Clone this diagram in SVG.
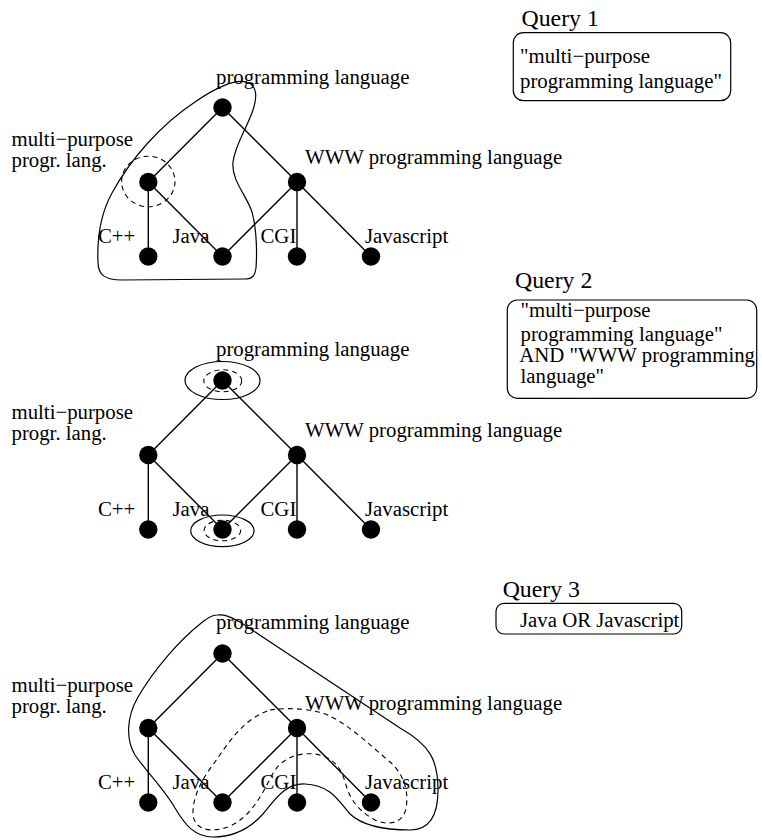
<svg xmlns="http://www.w3.org/2000/svg" width="762" height="840" viewBox="0 0 762 840">
<style>
text{font-family:"Liberation Serif","Times New Roman",serif;font-size:20.8px;fill:#000}
.title{font-size:23.8px}
.edge{stroke:#000;stroke-width:1.4;fill:none}
.node{fill:#000}
.blob{stroke:#000;stroke-width:1.2;fill:none}
.dash{stroke:#000;stroke-width:1.1;fill:none;stroke-dasharray:5,4}
.box{stroke:#000;stroke-width:1.2;fill:none}
</style>
<defs>
<g id="edges">
<line class="edge" x1="222.5" y1="107.5" x2="148.3" y2="182"/>
<line class="edge" x1="222.5" y1="107.5" x2="297" y2="182"/>
<line class="edge" x1="148.3" y1="182" x2="148.3" y2="256.5"/>
<line class="edge" x1="148.3" y1="182" x2="222.5" y2="256.5"/>
<line class="edge" x1="297" y1="182" x2="222.5" y2="256.5"/>
<line class="edge" x1="297" y1="182" x2="297" y2="256.5"/>
<line class="edge" x1="297" y1="182" x2="371" y2="256.5"/>
</g>
</defs>

<!-- Diagram 1 -->
<g id="diagram1">
<g id="d1-connectors"><use href="#edges"/></g>
<g id="d1-n-prog"><circle class="node" cx="222.5" cy="107.5" r="9.2"/><text x="216" y="84">programming language</text></g>
<g id="d1-n-multi"><circle class="node" cx="148.3" cy="182" r="9.2"/><text x="11.5" y="145.5">multi−purpose</text><text x="11.5" y="166.5">progr. lang.</text></g>
<g id="d1-n-www"><circle class="node" cx="297" cy="182" r="9.2"/><text x="305" y="163.5">WWW programming language</text></g>
<g id="d1-n-cpp"><circle class="node" cx="148.3" cy="256.5" r="9.2"/><text x="98" y="243">C++</text></g>
<g id="d1-n-java"><circle class="node" cx="222.5" cy="256.5" r="9.2"/><text x="172.5" y="243">Java</text></g>
<g id="d1-n-cgi"><circle class="node" cx="297" cy="256.5" r="9.2"/><text x="260.5" y="243">CGI</text></g>
<g id="d1-n-js"><circle class="node" cx="371" cy="256.5" r="9.2"/><text x="365" y="243">Javascript</text></g>
<g id="d1-result">
<path class="blob" d="M 246,82 C 258,85 257,98 253,110 C 247,128 235,145 233,162 C 231,180 247,196 252,212 C 257,230 257,255 256,268 C 255,276 252,279 245,279 L 122,280 C 105,280 98,275 98,262 C 97,240 100,215 112,193 C 130,160 160,125 195,102 C 215,88 235,79 246,82 Z"/>
<ellipse class="dash" cx="148.3" cy="181.5" rx="26.7" ry="25.3"/>
</g>
<g id="query1">
<text class="title" x="521.5" y="26">Query 1</text>
<rect class="box" x="513.3" y="32.7" width="217.4" height="68" rx="10"/>
<text x="520" y="63">"multi−purpose</text>
<text x="520" y="87.5">programming language"</text>
</g>
</g>

<!-- Diagram 2 -->
<g id="diagram2">
<g id="d2-connectors" transform="translate(0,273)"><use href="#edges"/></g>
<g transform="translate(0,273)">
<g id="d2-n-prog"><circle class="node" cx="222.5" cy="107.5" r="9.2"/><text x="216" y="83">programming language</text></g>
<g id="d2-n-multi"><circle class="node" cx="148.3" cy="182" r="9.2"/><text x="11.5" y="145.5">multi−purpose</text><text x="11.5" y="166.5">progr. lang.</text></g>
<g id="d2-n-www"><circle class="node" cx="297" cy="182" r="9.2"/><text x="305" y="163.5">WWW programming language</text></g>
<g id="d2-n-cpp"><circle class="node" cx="148.3" cy="256.5" r="9.2"/><text x="98" y="243">C++</text></g>
<g id="d2-n-java"><circle class="node" cx="222.5" cy="256.5" r="9.2"/><text x="172.5" y="243">Java</text></g>
<g id="d2-n-cgi"><circle class="node" cx="297" cy="256.5" r="9.2"/><text x="260.5" y="243">CGI</text></g>
<g id="d2-n-js"><circle class="node" cx="371" cy="256.5" r="9.2"/><text x="365" y="243">Javascript</text></g>
</g>
<g id="d2-result">
<ellipse class="blob" cx="222.5" cy="380.5" rx="37.5" ry="19"/>
<ellipse class="dash" cx="222.8" cy="380.8" rx="19" ry="11"/>
<ellipse class="blob" cx="222.4" cy="530.8" rx="31.7" ry="15.8"/>
<ellipse class="dash" cx="222.4" cy="530.5" rx="18.3" ry="10.3"/>
</g>
<g id="query2">
<text class="title" x="515" y="287.5">Query 2</text>
<rect class="box" x="507.3" y="300" width="249.4" height="98.3" rx="10"/>
<text x="520.5" y="316.5">"multi−purpose</text>
<text x="520.5" y="341">programming language"</text>
<text x="519.3" y="362">AND "WWW programming</text>
<text x="520.5" y="383">language"</text>
</g>
</g>

<!-- Diagram 3 -->
<g id="diagram3">
<g id="d3-connectors" transform="translate(0,546)"><use href="#edges"/></g>
<g transform="translate(0,546)">
<g id="d3-n-prog"><circle class="node" cx="222.5" cy="107.5" r="9.2"/><text x="216" y="83">programming language</text></g>
<g id="d3-n-multi"><circle class="node" cx="148.3" cy="182" r="9.2"/><text x="11.5" y="145.5">multi−purpose</text><text x="11.5" y="166.5">progr. lang.</text></g>
<g id="d3-n-www"><circle class="node" cx="297" cy="182" r="9.2"/><text x="305" y="163.5">WWW programming language</text></g>
<g id="d3-n-cpp"><circle class="node" cx="148.3" cy="256.5" r="9.2"/><text x="98" y="243">C++</text></g>
<g id="d3-n-java"><circle class="node" cx="222.5" cy="256.5" r="9.2"/><text x="172.5" y="243">Java</text></g>
<g id="d3-n-cgi"><circle class="node" cx="297" cy="256.5" r="9.2"/><text x="260.5" y="243">CGI</text></g>
<g id="d3-n-js"><circle class="node" cx="371" cy="256.5" r="9.2"/><text x="365" y="243">Javascript</text></g>
</g>
<g id="d3-result">
<path class="blob" d="M 217,615 C 226,614 232,618 240,622 L 400,728 C 430,745 438,760 438,790 C 438,815 430,830 410,830 C 390,830 365,828 350,814 C 338,800 330,785 305,784 C 285,783 275,800 262,815 C 250,828 235,837 213,837 C 195,837 185,825 175,808 C 165,790 145,770 135,755 C 126,740 126,718 138,697 C 155,668 180,640 200,624 C 207,618 212,615 217,615 Z"/>
<path class="dash" d="M 270,710 C 290,707 315,709 330,716 C 350,726 370,745 390,762 C 405,775 410,795 405,812 C 400,825 385,825 375,820 C 360,812 350,800 346,785 C 342,770 335,757 315,754 C 295,752 280,760 272,775 C 262,795 250,818 228,827 C 210,833 195,830 193,815 C 192,795 205,775 215,762 C 230,740 245,718 270,710 Z"/>
</g>
<g id="query3">
<text class="title" x="502.7" y="596.7">Query 3</text>
<rect class="box" x="496" y="603.3" width="185.7" height="30.7" rx="8"/>
<text x="520" y="626.7">Java OR Javascript</text>
</g>
</g>
</svg>
